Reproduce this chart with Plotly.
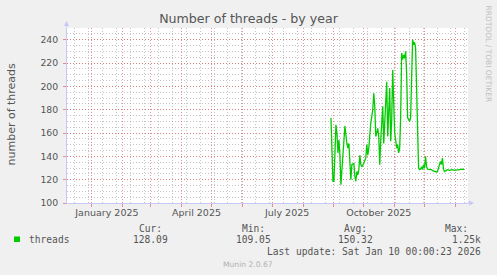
import plotly.graph_objects as go

# ---------------- data ----------------
dates = [
    "2025-08-29", "2025-08-31", "2025-09-01", "2025-09-03", "2025-09-04", "2025-09-05",
    "2025-09-06", "2025-09-07", "2025-09-08", "2025-09-10", "2025-09-11", "2025-09-12",
    "2025-09-14", "2025-09-15", "2025-09-16", "2025-09-17", "2025-09-18", "2025-09-19",
    "2025-09-21", "2025-09-22", "2025-09-23", "2025-09-24", "2025-09-25", "2025-09-26",
    "2025-09-27", "2025-09-28", "2025-09-29", "2025-10-01", "2025-10-02", "2025-10-03",
    "2025-10-04", "2025-10-05", "2025-10-06", "2025-10-07", "2025-10-08", "2025-10-10",
    "2025-10-11", "2025-10-12", "2025-10-13", "2025-10-14", "2025-10-15", "2025-10-16",
    "2025-10-17", "2025-10-18", "2025-10-19", "2025-10-20", "2025-10-21", "2025-10-22",
    "2025-10-23", "2025-10-24", "2025-10-25", "2025-10-26", "2025-10-27", "2025-10-28",
    "2025-10-29", "2025-10-30", "2025-10-31", "2025-11-01", "2025-11-02", "2025-11-03",
    "2025-11-04", "2025-11-05", "2025-11-06", "2025-11-07", "2025-11-08", "2025-11-09",
    "2025-11-10", "2025-11-11", "2025-11-12", "2025-11-13", "2025-11-14", "2025-11-15",
    "2025-11-16", "2025-11-17", "2025-11-18", "2025-11-19", "2025-11-20", "2025-11-21",
    "2025-11-22", "2025-11-23", "2025-11-24", "2025-11-25", "2025-11-26", "2025-11-27",
    "2025-11-28", "2025-11-29", "2025-11-30", "2025-12-01", "2025-12-02", "2025-12-03",
    "2025-12-04", "2025-12-06", "2025-12-08", "2025-12-09", "2025-12-11", "2025-12-13",
    "2025-12-14", "2025-12-16", "2025-12-17", "2025-12-18", "2025-12-19", "2025-12-20",
    "2025-12-21", "2025-12-23", "2025-12-24", "2025-12-26", "2025-12-28", "2025-12-29",
    "2025-12-31", "2026-01-02", "2026-01-03", "2026-01-05", "2026-01-07", "2026-01-08",
    "2026-01-10",
]
threads = [
    172.9, 118.6, 118.6, 167.0, 160.0, 142.9,
    154.0, 141.0, 115.7, 140.0, 150.0, 166.0,
    151.0, 147.0, 151.0, 131.0, 120.0, 132.9,
    134.0, 122.9, 118.6, 127.0, 124.0, 128.6,
    141.0, 133.0, 131.0, 134.0, 137.0, 138.6,
    150.0, 141.0, 147.0, 158.6, 168.6, 180.0,
    194.0, 183.0, 157.0, 160.0, 164.0, 157.0,
    132.9, 154.0, 167.0, 183.0, 151.0, 165.7,
    191.0, 204.0, 157.0, 174.0, 198.6, 153.0,
    171.0, 214.0, 177.0, 160.0, 154.0, 147.0,
    150.0, 143.0, 147.0, 174.0, 228.6, 223.0,
    227.0, 224.0, 230.0, 211.0, 173.0, 171.0,
    170.0, 173.0, 217.0, 240.0, 235.7, 237.7,
    232.9, 191.0, 145.7, 130.0, 128.6, 129.0,
    131.0, 128.6, 132.9, 130.0, 140.0, 131.0,
    129.0, 128.6, 128.6, 127.7, 127.0, 126.6,
    127.0, 132.9, 135.7, 132.9, 138.6, 129.0,
    127.0, 128.0, 128.6, 128.0, 128.3, 128.6,
    128.0, 128.3, 128.6, 128.3, 128.6, 129.0,
    128.6,
]

y_ticks = [100, 120, 140, 160, 180, 200, 220, 240]
month_starts = ["2025-01-01", "2025-02-01", "2025-03-01", "2025-04-01", "2025-05-01",
                "2025-06-01", "2025-07-01", "2025-08-01", "2025-09-01", "2025-10-01",
                "2025-11-01", "2025-12-01", "2026-01-01"]
label_dates = ["2025-01-16", "2025-04-16", "2025-07-16", "2025-10-16"]
label_texts = ["January 2025", "April 2025", "July 2025", "October 2025"]

legend_headers = ["Cur:", "Min:", "Avg:", "Max:"]
legend_values = ["128.09", "109.05", "150.32", "1.25k"]
series_name = "threads"
last_update = "Last update: Sat Jan 10 00:00:23 2026"

# ---------------- layout geometry ----------------
W, H = 497, 275
L, R, T, B = 67, 29, 28, 72
PW, PH = W - L - R, H - T - B
x_range = ["2024-12-06 22:00", "2026-01-13 15:00"]


def px(x):
    return (x - L) / PW


def py(y):
    return (H - B - y) / PH


RED = "rgba(225,100,100,0.7)"
GRAY = "rgba(140,140,140,0.5)"
AXIS = "#c8c8f8"
TXT = "#555555"
SANS = "DejaVu Sans"
MONO = "DejaVu Sans Mono"

fig = go.Figure()
fig.add_trace(go.Scatter(x=dates, y=threads, mode="lines",
                         line=dict(color="#00cc00", width=1.3),
                         showlegend=False, hoverinfo="skip"))
fig.add_trace(go.Scatter(x=[], y=[], xaxis="x2", showlegend=False, hoverinfo="skip"))

fig.update_layout(
    width=W, height=H,
    margin=dict(l=L, r=R, t=T, b=B, pad=0),
    paper_bgcolor="#f0f0f0", plot_bgcolor="#ffffff",
    showlegend=False,
    title=dict(text="Number of threads - by year", x=248.5 / W, xanchor="center",
               y=1 - 18.5 / H, yanchor="middle",
               font=dict(family=SANS, size=12.6, color=TXT)),
    xaxis=dict(type="date", range=x_range, tickmode="array", tickvals=month_starts,
               showticklabels=False, showgrid=True, gridcolor=RED, griddash="1px,2px",
               gridwidth=1, ticks="outside", ticklen=3, tickcolor=RED,
               showline=True, linecolor=AXIS, linewidth=1, zeroline=False,
               minor=dict(tickmode="linear", tick0="2024-12-14 13:00", dtick=14 * 86400000,
                          showgrid=True, gridcolor=GRAY, griddash="1px,2px", ticks="")),
    xaxis2=dict(type="date", range=x_range, overlaying="x", anchor="y", side="bottom",
                tickmode="array", tickvals=label_dates, ticktext=label_texts,
                showgrid=False, showline=False, zeroline=False, ticks="",
                ticklabelstandoff=2,
                tickfont=dict(family=SANS, size=9.5, color=TXT)),
    yaxis=dict(range=[100, 250], tickmode="array", tickvals=y_ticks,
               showgrid=True, gridcolor=RED, griddash="1px,2px", gridwidth=1,
               ticks="outside", ticklen=3, tickcolor=RED,
               showline=True, linecolor=AXIS, linewidth=1, zeroline=False,
               ticklabelstandoff=3,
               tickfont=dict(family=SANS, size=9.3, color=TXT),
               minor=dict(tickmode="linear", tick0=100, dtick=5, showgrid=True,
                          gridcolor=GRAY, griddash="1px,2px", ticks="")),
)

ann = []
# y axis title
ann.append(dict(text="number of threads", x=px(11), y=py(114.5), xref="paper", yref="paper",
                textangle=-90, showarrow=False, xanchor="center", yanchor="middle",
                font=dict(family=SANS, size=11, color=TXT)))
# side credit
ann.append(dict(text="RRDTOOL / TOBI OETIKER", x=px(488), y=py(53.5), xref="paper", yref="paper",
                textangle=90, showarrow=False, xanchor="center", yanchor="middle",
                font=dict(family=SANS, size=7.5, color="#c0c0c0")))
# axis arrows
ann.append(dict(text="", x=px(66.5), y=py(21), xref="paper", yref="paper", showarrow=True,
                ax=0, ay=8, arrowhead=2, arrowsize=1, arrowwidth=1, arrowcolor=AXIS))
ann.append(dict(text="", x=px(474), y=py(203), xref="paper", yref="paper", showarrow=True,
                ax=-8, ay=0, arrowhead=2, arrowsize=1, arrowwidth=1, arrowcolor=AXIS))

# legend block
hdr_right = [163.5, 267, 368.5, 470]
val_right = [169.5, 273, 374.5, 483]
for h, xr in zip(legend_headers, hdr_right):
    ann.append(dict(text=h, x=px(xr), y=py(228.3), xref="paper", yref="paper", showarrow=False,
                    xanchor="right", yanchor="middle", font=dict(family=MONO, size=9.6, color=TXT)))
for v, xr in zip(legend_values, val_right):
    ann.append(dict(text=v, x=px(xr), y=py(239.3), xref="paper", yref="paper", showarrow=False,
                    xanchor="right", yanchor="middle", font=dict(family=MONO, size=9.6, color=TXT)))
ann.append(dict(text=series_name, x=px(26.5), y=py(239.3), xref="paper", yref="paper",
                showarrow=False, xanchor="left", yanchor="middle",
                font=dict(family=MONO, size=9.6, color=TXT)))
ann.append(dict(text=last_update, x=px(483), y=py(251.7), xref="paper", yref="paper",
                showarrow=False, xanchor="right", yanchor="middle",
                font=dict(family=MONO, size=9.6, color=TXT)))
ann.append(dict(text="Munin 2.0.67", x=px(248), y=py(264.3), xref="paper", yref="paper",
                showarrow=False, xanchor="center", yanchor="middle",
                font=dict(family=SANS, size=7.6, color="#b0b0b0")))
fig.update_layout(annotations=ann)

fig.add_shape(type="rect", xref="paper", yref="paper", x0=px(14), x1=px(20),
              y0=py(242), y1=py(236.5), fillcolor="#00cc00", line=dict(width=0))

fig.write_html("out.html")
